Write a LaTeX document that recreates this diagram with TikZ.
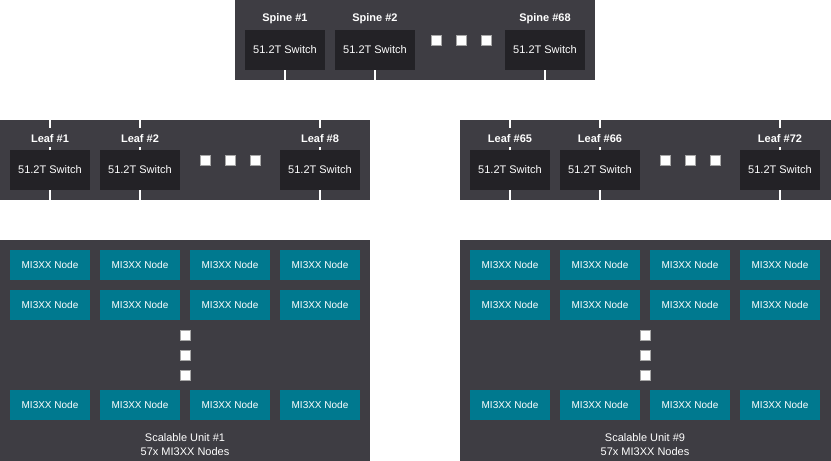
\documentclass[tikz,border=0pt]{standalone}
\usepackage{fontspec}
\setmainfont{Liberation Sans}
\usetikzlibrary{positioning}
\definecolor{panelgrey}{HTML}{3E3D43}
\definecolor{switchgrey}{HTML}{232226}
\definecolor{nodeteal}{HTML}{00798F}
\begin{document}
\begin{tikzpicture}[x=1pt, y=-1pt]
	\tikzset{panneau/.style={fill=panelgrey, draw=none},
	switch/.style={fill=switchgrey, text=white, minimum width=80pt, minimum height=40pt, inner sep=0pt, font=\fontsize{11}{13}\selectfont},
	calcul/.style={fill=nodeteal, text=white, minimum width=80pt, minimum height=30pt, inner sep=0pt, font=\fontsize{10}{12}\selectfont},
	etiquette/.style={text=white, font=\bfseries\fontsize{11}{13}\selectfont, inner sep=1pt},
	point/.style={fill=white, draw=gray!70, minimum size=10pt, inner sep=0pt},
	lien/.style={white, line width=2pt}};
	\useasboundingbox (0,0) rectangle (831,461);

	% panels
	\fill[panneau] (235,0) rectangle (595,80);
	\fill[panneau] (0,120) rectangle (370,200);
	\fill[panneau] (460,120) rectangle (831,200);
	\fill[panneau] (0,240) rectangle (370,461);
	\fill[panneau] (460,240) rectangle (831,461);

	% spine switches
	\foreach \name/\x/\lab in {s1/285/1, s2/375/2, s68/545/68}{
		\node[switch] (\name) at (\x, 50) {51.2T Switch};
		\node[etiquette] (l-\name) at (\x, 19) {Spine \#\lab};
		\coordinate (b-\name) at (\x, 80);
		\draw[lien] (\name.south) -- (b-\name);
	}
	\foreach \x/\n in {436/1, 461/2, 486/3}
		\node[point] (ds\n) at (\x, 40) {};

	% leaf switches
	\foreach \name/\x/\lab in {f1/50/1, f2/140/2, f8/320/8, f65/510/65, f66/600/66, f72/780/72}{
		\node[switch] (\name) at (\x, 170) {51.2T Switch};
		\node[etiquette] (l-\name) at (\x, 139) {Leaf \#\lab};
		\coordinate (t-\name) at (\x, 120);
		\coordinate (u-\name) at (\x, 128);
		\coordinate (b-\name) at (\x, 200);
		\draw[lien] (t-\name) -- (u-\name);
		\draw[lien] (\name.north) -- ++(0,-3);
		\draw[lien] (\name.south) -- (b-\name);
	}
	\foreach \x/\n in {205/1, 230/2, 255/3, 665/4, 690/5, 715/6}
		\node[point] (df\n) at (\x, 160) {};

	% scalable units
	\foreach \u/\ox/\lab in {a/0/1, b/460/9}{
		\foreach \c in {0,...,3}
			\foreach \r/\y in {1/265, 2/305, 3/405}
				\node[calcul] (n-\u-\r-\c) at (\ox+50+90*\c, \y) {MI3XX Node};
		\foreach \y/\n in {335/1, 355/2, 375/3}
			\node[point] (dn-\u\n) at (\ox+185, \y) {};
		\node[text=white, align=center, font=\fontsize{11}{14}\selectfont] (su-\u) at (\ox+185, 445) {Scalable Unit \#\lab\\57x MI3XX Nodes};
	}
\end{tikzpicture}
\end{document}
